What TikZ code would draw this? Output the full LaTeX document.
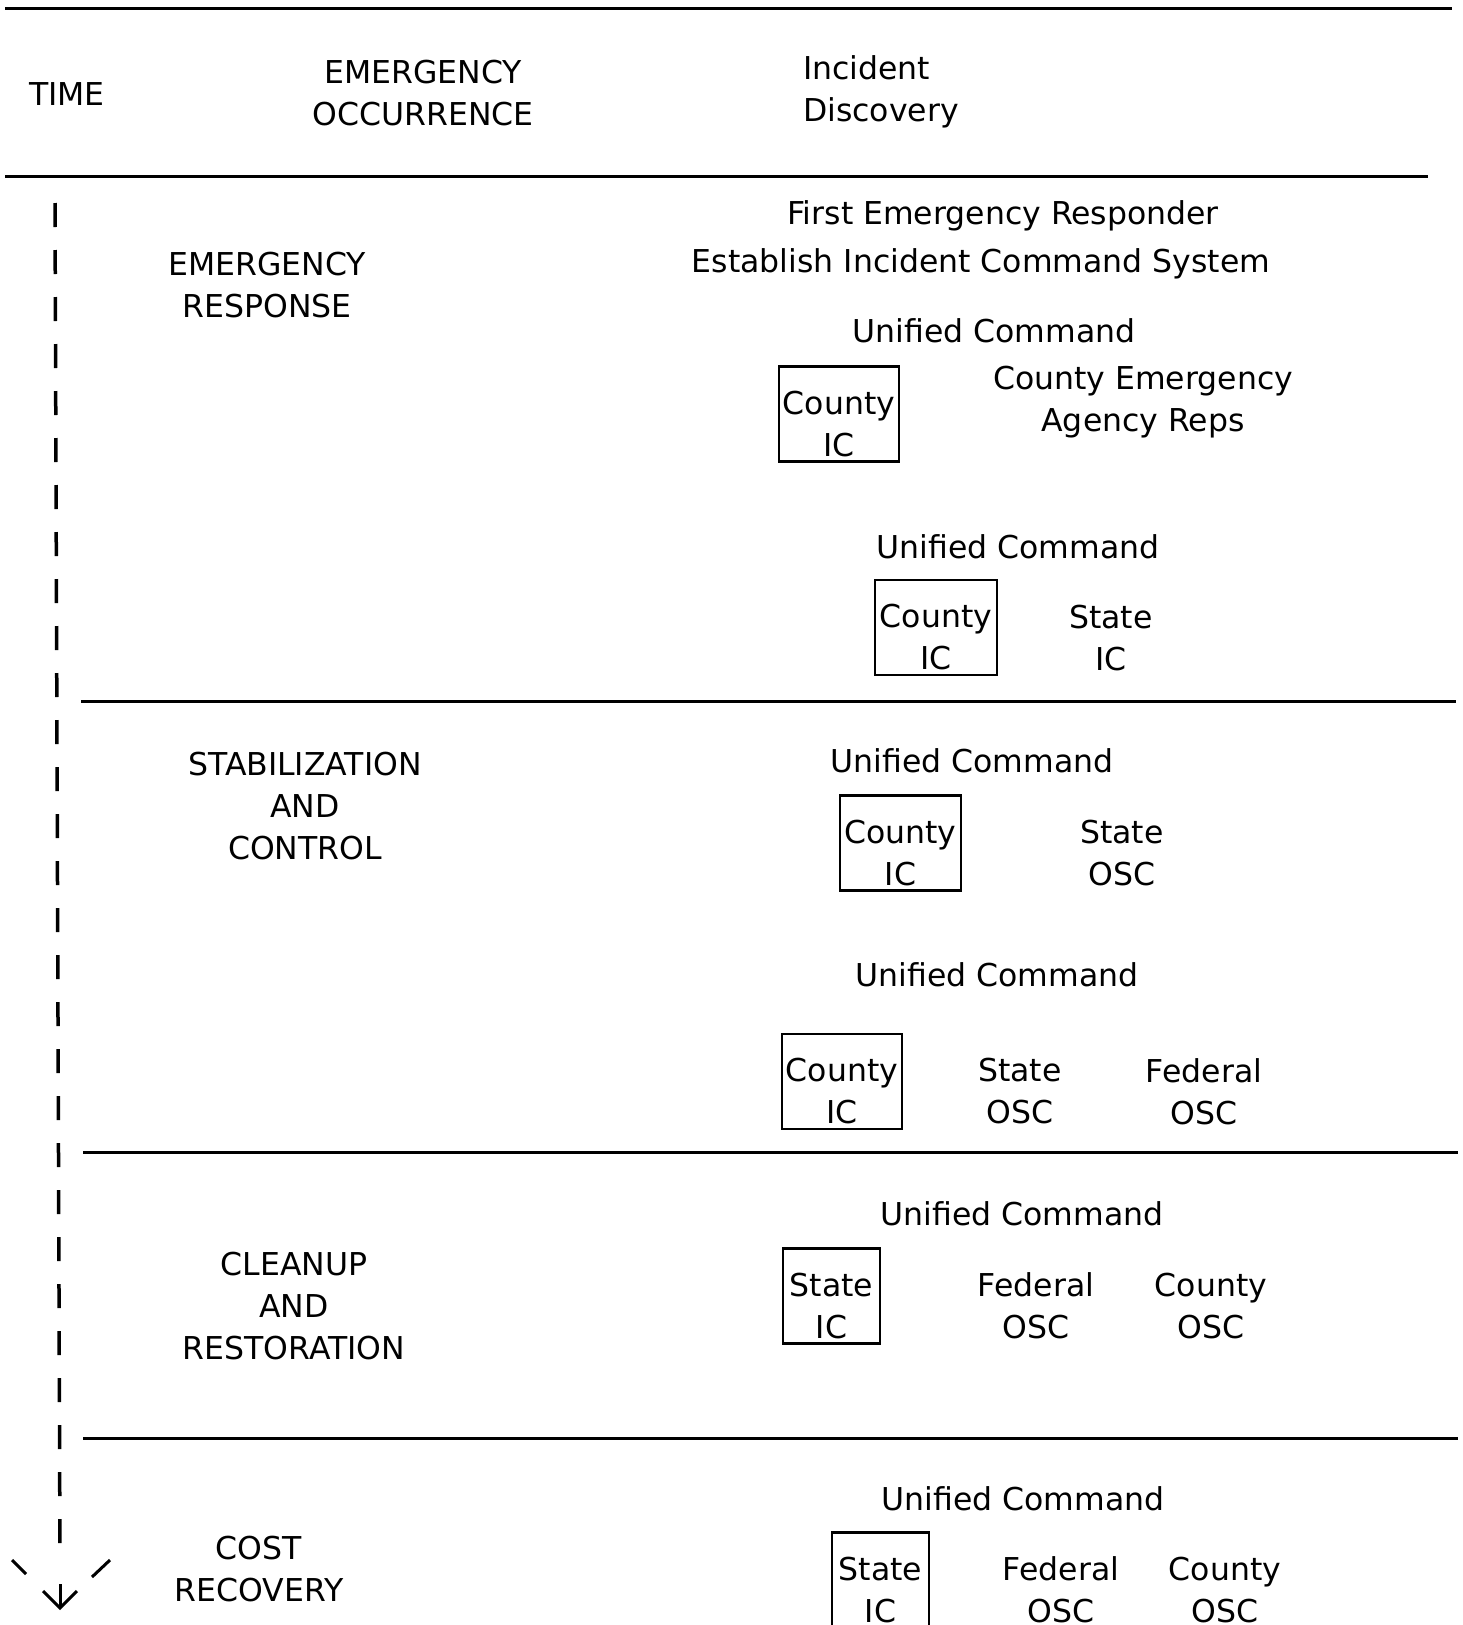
\documentclass[tikz,border=0pt]{standalone}
\usepackage{fontspec}
\setmainfont{DejaVu Sans}
\begin{document}
\begin{tikzpicture}[x=1pt,y=-1pt,
  every node/.style={font=\fontsize{31.5}{42}\selectfont, align=center, inner sep=0pt},
  rule/.style={line width=3pt},
  icbox/.style={draw, line width=2.5pt, minimum height=95pt, text height=84pt, text depth=0pt},
  timeline/.style={line width=3.5pt, dash pattern=on 24pt off 23pt},
  tickline/.style={line width=3pt}]
\useasboundingbox (0,0) rectangle (1463,1625);
% separator rules
\draw[rule] (5,8) -- (1452,8);
\draw[rule] (5,176) -- (1428,176);
\draw[rule] (81,701) -- (1456,701);
\draw[rule] (83,1152) -- (1458,1152);
\draw[rule] (83,1438) -- (1458,1438);
% header
\node (time) at (67,94) {TIME};
\node (occ) at (423,93) {EMERGENCY\\OCCURRENCE};
\node[anchor=west, align=left] (disc) at (803,92) {Incident\\Discovery};
% phase labels
\node (er) at (267,285) {EMERGENCY\\RESPONSE};
\node (sc) at (305,806) {STABILIZATION\\AND\\CONTROL};
\node (cr) at (294,1306) {CLEANUP\\AND\\RESTORATION};
\node (cost) at (259,1569) {COST\\RECOVERY};
% emergency response
\node (first) at (1003,216) {First Emergency Responder};
\node (ics) at (981,264) {Establish Incident Command System};
\node (uc1) at (994,331) {Unified Command};
\node[icbox, minimum width=120pt] (b1) at (839,414) {County\\IC};
\node (cear) at (1143,402) {County Emergency\\Agency Reps};
\node (uc2) at (1018,547) {Unified Command};
\node[icbox, minimum width=122pt] (b2) at (936,627.5) {County\\IC};
\node (sic) at (1111,638) {State\\IC};
% stabilization
\node (uc3) at (972,761) {Unified Command};
\node[icbox, minimum width=121pt] (b3) at (900.5,843) {County\\IC};
\node (sosc1) at (1122,853) {State\\OSC};
\node (uc4) at (997,975) {Unified Command};
\node[icbox, minimum width=120pt] (b4) at (842,1081.5) {County\\IC};
\node (sosc2) at (1020,1091.5) {State\\OSC};
\node (fosc1) at (1204,1091.5) {Federal\\OSC};
% cleanup
\node (uc5) at (1022,1214) {Unified Command};
\node[icbox, minimum width=97pt] (b5) at (831.5,1296) {State\\IC};
\node (fosc2) at (1036,1306) {Federal\\OSC};
\node (cosc1) at (1211,1306) {County\\OSC};
% cost recovery
\node (uc6) at (1023,1499) {Unified Command};
\node[icbox, minimum width=97pt] (b6) at (880.5,1580) {State\\IC};
\node (fosc3) at (1061,1590) {Federal\\OSC};
\node (cosc2) at (1225,1590) {County\\OSC};
% time axis
\coordinate (t0) at (55,203);
\coordinate (t1) at (60,1560);
\draw[timeline] (t0) -- (t1);
\coordinate (a0) at (60,1584);
\coordinate (a1) at (60,1608);
\draw[tickline] (a0) -- (a1);
\draw[tickline] (a1) +(-17,-17) -- (a1) -- +(17,-17);
\draw[tickline] (12,1560) -- (26,1574);
\draw[tickline] (110,1560) -- (92,1577);
\end{tikzpicture}
\end{document}
